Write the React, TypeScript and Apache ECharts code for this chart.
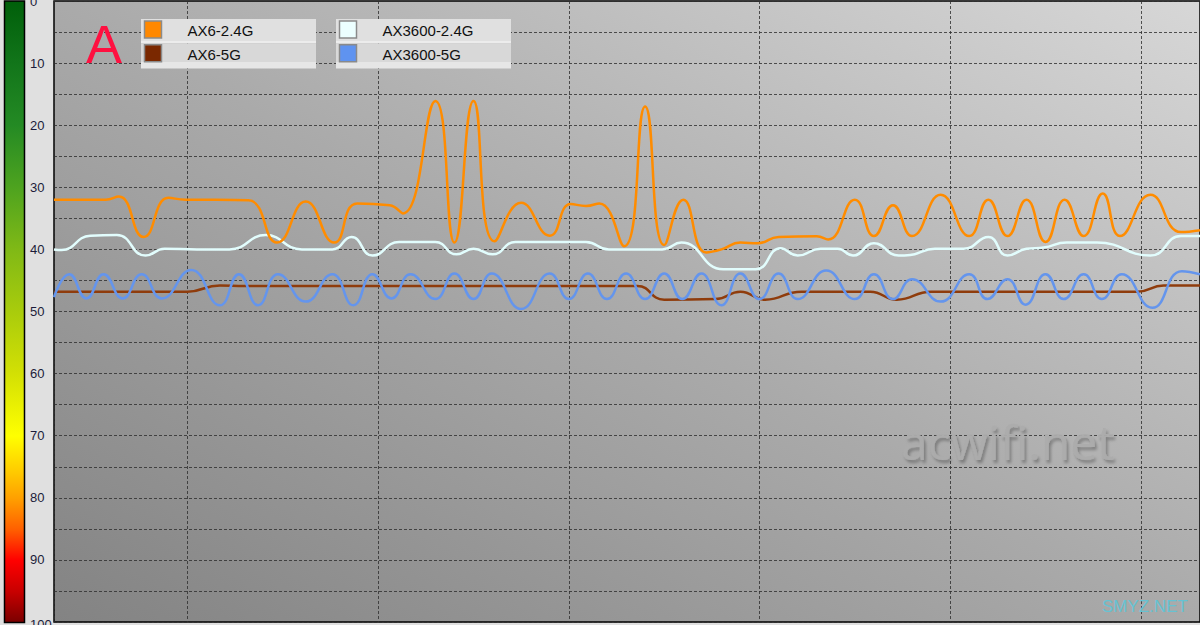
import React, { useEffect, useRef } from "react";
import * as echarts from "echarts";

// ---- data ----
const seriesNames = ["AX6-2.4G", "AX6-5G", "AX3600-2.4G", "AX3600-5G"];
const lineColors = ["#ff8c00", "#8f3c0c", "#e2fdfd", "#6495ed"];
const swatchColors = ["#ff8800", "#7a2800", "#ecffff", "#5f93f0"];

// signal level axis (inverted: 0 at top)
const yMin = 0;
const yMax = 100;
const yStep = 5;
const yLabelStep = 10;

// time axis (seconds)
const tMin = -7;
const tMax = 53.1;

// [time, level]
const ax6_24g: [number, number][] = [
  [-7, 32.0], [-4.3, 32.0], [-3.6, 31.5], [-2.3, 38.0], [-1.0, 31.7], [-0.1, 32.0],
  [1.5, 32.0], [3.2, 32.1], [4.7, 38.9], [6.2, 32.3], [7.7, 38.9], [8.9, 32.6],
  [10.6, 32.9], [11.3, 34.2], [13.0, 16.1], [14.0, 38.9], [15.0, 16.1], [16.1, 38.7],
  [17.5, 32.5], [19.0, 37.8], [20.1, 32.7], [20.9, 33.0], [21.6, 32.6], [22.9, 39.5],
  [24.0, 17.0], [25.0, 39.3], [26.0, 32.0], [27.2, 40.5], [28.0, 40.0], [29.0, 38.9],
  [29.9, 39.0], [31.0, 38.0], [33.0, 37.9], [33.6, 38.4], [35.0, 32.0], [36.0, 37.85],
  [37.0, 32.9], [38.0, 37.85], [39.5, 31.2], [41.0, 37.85], [42.0, 32.0], [43.0, 37.85],
  [44.0, 32.0], [45.0, 38.8], [46.0, 32.0], [47.0, 37.85], [48.0, 31.0], [48.9, 37.85],
  [50.5, 31.2], [52.1, 37.2], [53.1, 36.9],
];

const ax6_5g: [number, number][] = [
  [-7, 46.8], [-1.0, 46.8], [0.0, 46.8], [1.7, 45.8], [3.0, 45.9], [22.5, 45.9],
  [23.6, 45.9], [25.0, 48.1], [27.7, 48.0], [29.0, 46.8], [30.3, 48.1], [32.2, 46.8],
  [35.8, 46.8], [37.2, 48.1], [39.0, 46.8], [40.0, 46.8], [49.8, 46.8], [51.2, 45.8],
  [53.1, 45.8],
];

const ax3600_24g: [number, number][] = [
  [-7, 40.0], [-6.6, 40.1], [-5.1, 37.8], [-3.7, 37.7], [-2.2, 41.0], [-1.2, 39.9],
  [0.5, 40.0], [2.2, 40.0], [4.1, 37.7], [6.0, 40.0], [7.6, 40.0], [8.6, 38.0],
  [9.7, 41.0], [11.1, 38.8], [13.0, 38.8], [14.1, 40.8], [15.0, 39.9], [16.0, 40.8],
  [17.2, 38.8], [19.0, 38.8], [20.9, 38.8], [22.1, 40.0], [24.9, 40.0], [25.9, 38.9],
  [28.1, 43.2], [29.8, 43.2], [31.1, 39.8], [32.0, 41.0], [33.2, 39.9], [34.1, 39.9],
  [34.9, 41.0], [36.0, 39.0], [37.3, 41.0], [37.9, 40.9], [39.2, 39.9], [40.7, 39.9],
  [42.0, 38.0], [43.0, 41.0], [44.0, 39.9], [44.9, 39.7], [46.1, 38.9], [47.7, 38.9],
  [50.5, 41.0], [52.1, 37.85], [53.1, 37.85],
];

const ax3600_5g: [number, number][] = [
  [-7, 47.7], [-6.2, 44.0], [-5.3, 47.9], [-4.4, 44.0], [-3.4, 47.9], [-2.4, 44.0],
  [-1.35, 47.9], [0.2, 43.3], [1.7, 49.0], [2.7, 44.0], [3.7, 49.0], [4.75, 44.0],
  [6.2, 48.4], [7.6, 44.0], [8.7, 49.0], [9.7, 44.0], [10.7, 47.9], [11.7, 44.0],
  [13.0, 48.0], [14.0, 43.9], [15.0, 48.0], [15.95, 43.9], [17.5, 49.6], [19.0, 43.9],
  [20.0, 48.0], [21.0, 43.9], [22.0, 48.0], [23.0, 43.9], [24.0, 48.0], [25.0, 43.9],
  [25.95, 48.0], [26.95, 43.9], [28.0, 49.0], [29.0, 43.9], [30.0, 48.0], [31.0, 43.9],
  [32.0, 48.0], [33.5, 43.4], [35.0, 48.0], [36.0, 44.0], [37.0, 48.0], [38.0, 44.8],
  [39.5, 48.4], [41.0, 44.0], [41.95, 48.0], [43.0, 44.8], [43.95, 48.9], [45.0, 44.0],
  [45.95, 48.0], [47.0, 44.0], [47.95, 48.0], [49.0, 44.0], [50.6, 49.4], [52.15, 43.5],
  [53.1, 44.0],
];

const seriesData = [ax6_24g, ax6_5g, ax3600_24g, ax3600_5g];
const seriesZ = [4, 2, 3, 5];

const FONT = "'Liberation Sans', Arial, sans-serif";
const LABEL_COLOR = "#1c1c3a";

function legendPanel(x: number, idx: number[]) {
  const els: any[] = [
    { type: "rect", z: 100, shape: { x, y: 19, width: 175, height: 22 }, style: { fill: "#e0e0e0" } },
    { type: "rect", z: 100, shape: { x, y: 41, width: 175, height: 2.5 }, style: { fill: "#ececec" } },
    { type: "rect", z: 100, shape: { x, y: 43.5, width: 175, height: 18.5 }, style: { fill: "#d8d8d8" } },
    { type: "rect", z: 100, shape: { x, y: 62, width: 175, height: 6.5 }, style: { fill: "#e6e6e6" } },
  ];
  idx.forEach((si, row) => {
    const sy = row === 0 ? 21 : 44.8;
    els.push({
      type: "rect",
      z: 101,
      shape: { x: x + 3.5, y: sy, width: 17, height: 17 },
      style: { fill: swatchColors[si], stroke: "#8a8a8a", lineWidth: 1.5 },
    });
    els.push({
      type: "text",
      z: 101,
      x: x + 46.5,
      y: row === 0 ? 30 : 54,
      style: {
        text: seriesNames[si],
        fill: "#111111",
        fontSize: 15,
        fontFamily: FONT,
        align: "left",
        verticalAlign: "middle",
      },
    });
  });
  return els;
}

export default function App() {
  const ref = useRef<HTMLDivElement>(null);
  useEffect(() => {
    document.body.style.margin = "0";
    const chart = echarts.init(ref.current!, null, { renderer: "svg" });
    const gridLine = { color: "rgba(45,45,45,0.8)", type: [3, 2] as any, width: 1 };
    const gridTop = 1;
    const gridBottomY = 622;
    const option: any = {
      animation: false,
      backgroundColor: "#e0e0e0",
      grid: {
        left: 54,
        right: -2,
        top: gridTop,
        bottom: 625 - gridBottomY,
        show: true,
        backgroundColor: new echarts.graphic.LinearGradient(0, 1, 1, 0, [
          { offset: 0, color: "#838383" },
          { offset: 0.5, color: "#aaaaaa" },
          { offset: 1, color: "#d7d7d7" },
        ]),
        borderColor: "#000000",
        borderWidth: 1.5,
      },
      xAxis: {
        type: "value",
        min: tMin,
        max: tMax,
        axisLine: { show: false },
        axisTick: { show: false },
        axisLabel: { show: false },
        splitLine: { show: true, lineStyle: gridLine },
      },
      yAxis: {
        type: "value",
        inverse: true,
        min: yMin,
        max: yMax,
        interval: yStep,
        axisLine: { show: false },
        axisTick: { show: false },
        axisLabel: {
          show: true,
          align: "left",
          margin: 24,
          fontSize: 13,
          fontFamily: FONT,
          color: LABEL_COLOR,
          formatter: (v: number) =>
            v % yLabelStep === 0 && v !== yMin && v !== yMax ? String(v) : "",
        },
        splitLine: { show: true, lineStyle: gridLine },
      },
      series: seriesData.map((d, i) => ({
        name: seriesNames[i],
        type: "line",
        data: d,
        smooth: 0.5,
        showSymbol: false,
        symbol: "none",
        z: seriesZ[i],
        lineStyle: { color: lineColors[i], width: 2.5 },
        itemStyle: { color: lineColors[i] },
      })),
      graphic: [
        {
          type: "rect",
          z: 100,
          shape: { x: 4.5, y: 1, width: 20, height: 621.5 },
          style: {
            fill: new echarts.graphic.LinearGradient(0, 0, 0, 1, [
              { offset: 0, color: "#005f0a" },
              { offset: 0.1, color: "#12751a" },
              { offset: 0.2, color: "#248a24" },
              { offset: 0.3, color: "#4ea31f" },
              { offset: 0.4, color: "#80b916" },
              { offset: 0.5, color: "#a9cc0c" },
              { offset: 0.6, color: "#d3e004" },
              { offset: 0.7, color: "#ffff00" },
              { offset: 0.76, color: "#ffc800" },
              { offset: 0.8, color: "#ffa000" },
              { offset: 0.85, color: "#ff6000" },
              { offset: 0.9, color: "#ff0000" },
              { offset: 0.95, color: "#c80000" },
              { offset: 1, color: "#7a0000" },
            ]),
            stroke: "#000000",
            lineWidth: 1.5,
          },
        },
        // end labels of the level scale (cut by the frame edges, as in the original)
        {
          type: "text",
          z: 100,
          x: 30,
          y: gridTop,
          style: {
            text: String(yMin),
            fill: LABEL_COLOR,
            fontSize: 13,
            fontFamily: FONT,
            align: "left",
            verticalAlign: "middle",
          },
        },
        {
          type: "text",
          z: 100,
          x: 30,
          y: gridBottomY + 2,
          style: {
            text: String(yMax),
            fill: LABEL_COLOR,
            fontSize: 13,
            fontFamily: FONT,
            align: "left",
            verticalAlign: "middle",
          },
        },
        {
          type: "text",
          z: 100,
          x: 86,
          y: 44,
          style: {
            text: "A",
            fill: "#ff1040",
            fontSize: 54,
            fontFamily: FONT,
            align: "left",
            verticalAlign: "middle",
          },
        },
        ...legendPanel(141, [0, 1]),
        ...legendPanel(336, [2, 3]),
        {
          type: "text",
          z: 100,
          x: 901,
          y: 441,
          style: {
            text: "acwifi.net",
            fill: "rgba(172,172,172,0.95)",
            fontSize: 48,
            fontFamily: "'Open Sans', sans-serif",
            align: "left",
            verticalAlign: "middle",
            textShadowColor: "rgba(0,0,0,0.3)",
            textShadowBlur: 3,
            textShadowOffsetX: 2,
            textShadowOffsetY: 3,
          },
        },
        {
          type: "text",
          z: 100,
          x: 1102,
          y: 606,
          style: {
            text: "SMYZ.NET",
            fill: "#66c2d2",
            fontSize: 17,
            fontFamily: FONT,
            align: "left",
            verticalAlign: "middle",
          },
        },
      ],
    };
    chart.setOption(option);
    return () => chart.dispose();
  }, []);
  return <div ref={ref} style={{ width: 1200, height: 625 }} />;
}
